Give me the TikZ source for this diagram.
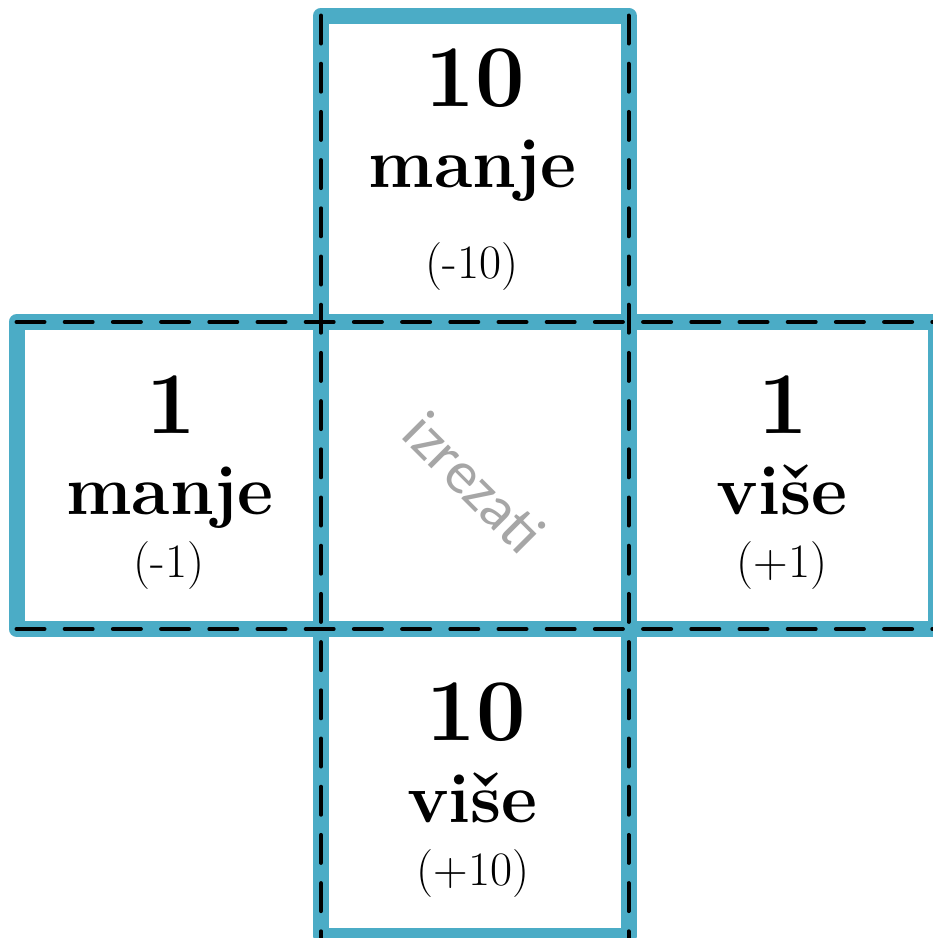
\documentclass[tikz,border=0pt]{standalone}
\usepackage{fontspec}
\newfontfamily\cutfont{Carlito}
\definecolor{cutblue}{HTML}{4BACC6}
\definecolor{cutgray}{RGB}{166,166,166}
\begin{document}
\begin{tikzpicture}[x=1pt,y=-1pt,
  cell/.style={draw=cutblue, line width=16pt, line join=round, fill=white},
  cutline/.style={draw=black, line width=4pt, line cap=round, dash pattern=on 28pt off 20.2pt},
  bignum/.style={font=\fontsize{88}{90}\selectfont\bfseries, anchor=base, inner sep=0pt},
  word/.style={font=\fontsize{70}{72}\selectfont\bfseries, anchor=base, inner sep=0pt},
  small/.style={font=\fontsize{48}{50}\selectfont, anchor=base, inner sep=0pt}]
\useasboundingbox (0,0) rectangle (933,938);
\clip (0,0) rectangle (933,938);
% grid coordinates
\coordinate (A) at (16.5,15.5);
% squares
\draw[cell] (321,322) rectangle (628.5,629);
\draw[cell] (321,15.5) rectangle (628.5,322);
\draw[cell] (16.5,322) rectangle (321,629);
\draw[cell] (628.5,322) rectangle (936,629);
\draw[cell] (321,629) rectangle (628.5,936);
% cut lines
\coordinate (v1t) at (321,15.5);   \coordinate (v1b) at (321,960);
\coordinate (v2t) at (628.5,15.5); \coordinate (v2b) at (628.5,960);
\coordinate (h1l) at (16.5,322);   \coordinate (h1r) at (960,322);
\coordinate (h2l) at (16.5,629);   \coordinate (h2r) at (960,629);
\draw[cutline] (v1t) -- (v1b);
\draw[cutline] (v2t) -- (v2b);
\draw[cutline] (h1l) -- (h1r);
\draw[cutline] (h2l) -- (h2r);
% top
\node[bignum] (tn) at (475,106) {10};
\node[word]   (tw) at (472.5,187) {manje};
\node[small]  (tp) at (472,278) {(-10)};
% left
\node[bignum] (ln) at (171,433) {1};
\node[word]   (lw) at (170,514) {manje};
\node[small]  (lp) at (169,577) {(-1)};
% right
\node[bignum] (rn) at (783,433) {1};
\node[word]   (rw) at (782,514) {više};
\node[small]  (rp) at (782,577) {(+1)};
% bottom
\node[bignum] (bn) at (476,740) {10};
\node[word]   (bw) at (472.5,822) {više};
\node[small]  (bp) at (473,885) {(+10)};
% centre
\node[rotate=-45, anchor=base, inner sep=0pt, text=cutgray,
      font=\cutfont\fontsize{60}{60}\selectfont] (cut) at (460,497) {izrezati};
\end{tikzpicture}
\end{document}
